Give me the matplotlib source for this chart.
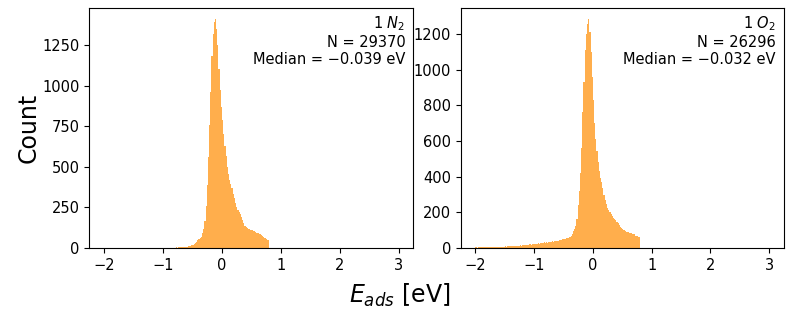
import numpy as np
import matplotlib
matplotlib.use("Agg")
import matplotlib.pyplot as plt

# histogram bins (eV), same for both panels
bin_start = -2.0
bin_stop = 0.8
n_bins = 140

# counts per bin
n2_counts = [
    # -2.00 .. -1.02
    0, 0, 1, 0, 0, 0, 0, 1, 0, 0, 0, 0, 0, 1, 0, 0, 0, 0, 1, 0,
    0, 1, 0, 0, 1, 0, 1, 0, 0, 1, 0, 1, 1, 0, 1, 1, 0, 1, 1, 1,
    1, 1, 2, 1, 1, 2, 1, 2, 2, 1,
    # -1.00 .. -0.48
    1, 1, 2, 1, 2, 2, 2, 3, 2, 3, 3, 4, 3, 4, 5, 5, 6, 7, 6, 8,
    9, 10, 12, 14, 17, 20, 26,
    # -0.46 .. -0.02
    32, 38, 47, 55, 60, 70, 90, 120, 165, 260, 390, 560, 760, 960, 1180, 1320,
    1390, 1408, 1350, 1250, 1100, 975, 870,
    # 0.00 .. 0.78
    790, 700, 630, 565, 500, 455, 420, 395, 370, 335,
    305, 275, 250, 236, 222, 208, 192, 170, 152, 138,
    128, 122, 118, 114, 112, 110, 106, 102, 99, 95,
    91, 88, 84, 80, 75, 66, 60, 54, 51, 48,
]

o2_counts = [
    # -2.00 .. -0.42
    3, 2, 3, 4, 3, 4, 3, 5, 4, 4, 5, 4, 6, 5, 5, 6, 5, 7, 6, 6,
    7, 6, 8, 7, 8, 9, 8, 10, 9, 10, 11, 10, 12, 11, 13, 12, 14, 13, 15, 14,
    16, 15, 17, 18, 17, 19, 20, 19, 22, 21, 23, 25, 24, 26, 25, 28, 27, 29, 31, 30,
    32, 30, 33, 35, 34, 37, 36, 39, 38, 42, 40, 44, 46, 45, 48, 52, 50, 55, 58, 56,
    # -0.40 .. -0.02
    62, 70, 80,
    95, 105, 125, 160, 240, 320, 420, 560, 760, 930,
    1110, 1200, 1255, 1282, 1210, 1100, 960,
    # 0.00 .. 0.78
    830, 700, 610, 545, 480, 430, 395, 370, 335, 300,
    270, 245, 225, 212, 200, 190, 180, 170, 162, 155,
    148, 140, 128, 118, 112, 105, 100, 95, 92, 90,
    88, 86, 84, 80, 78, 76, 70, 66, 62, 60,
]

panel_labels = ["1 $N_2$", "1 $O_2$"]
panel_n = [29370, 26296]
panel_median = [-0.039, -0.032]
y_ticks = [[0, 250, 500, 750, 1000, 1250], [0, 200, 400, 600, 800, 1000, 1200]]
y_tops = [1478, 1346]

edges = np.linspace(bin_start, bin_stop, n_bins + 1)

fig = plt.figure(figsize=(7.92, 3.16), dpi=100)
ax1 = fig.add_axes([0.113, 0.2152, 0.409, 0.7595])
ax2 = fig.add_axes([0.5817, 0.2152, 0.408, 0.7595])

for ax, counts, lab, n, med, yt, ytop in zip(
        [ax1, ax2], [n2_counts, o2_counts], panel_labels, panel_n,
        panel_median, y_ticks, y_tops):
    ax.hist(edges[:-1], bins=edges, weights=counts, color="darkorange",
            alpha=0.7, linewidth=0)
    ax.set_xlim(-2.25, 3.25)
    ax.set_ylim(0, ytop)
    ax.set_xticks([-2, -1, 0, 1, 2, 3])
    ax.set_yticks(yt)
    ax.tick_params(labelsize=10.5)
    med_txt = f"{med:.3f}".replace("-", "\u2212")
    ax.text(0.975, 0.975, f"{lab}\nN = {n}\nMedian = {med_txt} eV",
            transform=ax.transAxes, ha="right", va="top", fontsize=10.5,
            multialignment="right")

fig.text(0.036, 0.595, "Count", rotation=90, ha="center", va="center", fontsize=17)
fig.text(0.505, 0.065, "$E_{ads}$ [eV]", ha="center", va="center", fontsize=17)

fig.savefig("out.png", dpi=100)
